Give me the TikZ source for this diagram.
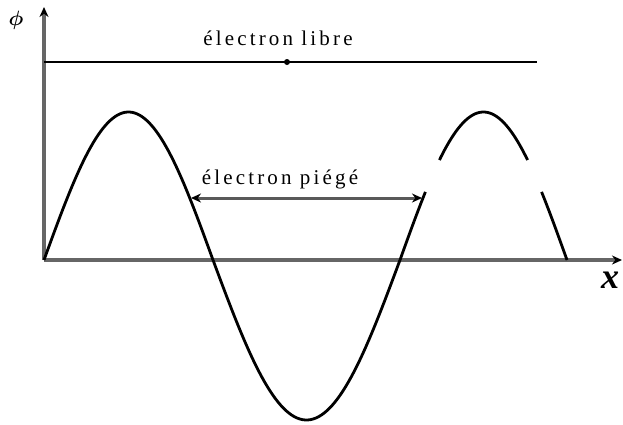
\documentclass[tikz,border=0pt]{standalone}
\usepackage{amsmath}
\usepackage{fontspec}
\setmainfont{Liberation Serif}
\newfontfamily\lblfont[LetterSpace=15]{Liberation Serif}
\usetikzlibrary{arrows.meta}
\begin{document}
\begin{tikzpicture}[x=1pt,y=-1pt,
  axis/.style={line width=3.6pt,black!60,-{Stealth[length=10pt,width=9pt,black]}},
  curve/.style={line width=2.8pt,black},
  lbl/.style={font=\lblfont\fontsize{21}{24}\selectfont,inner sep=0pt},
  freeline/.style={line width=1.8pt,black},
  trap/.style={line width=3pt,black!65,{Stealth[length=10pt,width=9pt,black]}-{Stealth[length=10pt,width=9pt,black]}}]
\useasboundingbox (0,0) rectangle (623,424);
% axes
\coordinate (O) at (44,260);
\coordinate (Ytop) at (44,7);
\coordinate (Xend) at (622,260);
\draw[axis] (O) -- (Ytop);
\draw[axis] (O) -- (Xend);
\node[font=\fontsize{22}{24}\selectfont] (phi) at (16,20) {$\boldsymbol{\phi}$};
\node[font=\fontsize{36}{38}\selectfont\bfseries\itshape,inner sep=0pt] (xl) at (610,280) {x};
% free electron
\coordinate (L1) at (44,62);
\coordinate (L2) at (537,62);
\draw[freeline] (L1) -- (L2);
\node[circle,fill=black,inner sep=0pt,minimum size=6pt] (dot) at (287,62) {};
\node[lbl] (libre) at (278,38) {électron libre};
% potential curve
\draw[curve] plot[domain=0:180,samples=70] ({44+0.93889*\x},{260-148*sin(\x)})
  -- plot[domain=0:180,samples=70] ({213+1.03889*\x},{260+160*sin(\x)})
  -- plot[domain=0:27.4,samples=15] ({400+0.92778*\x},{260-148*sin(\x)});
\draw[curve] plot[domain=42.5:137.5,samples=50] ({400+0.92778*\x},{260-148*sin(\x)});
\draw[curve] plot[domain=152.6:180,samples=15] ({400+0.92778*\x},{260-148*sin(\x)});
% trapped electron
\coordinate (T1) at (191,198);
\coordinate (T2) at (422,198);
\draw[trap] (T1) -- (T2);
\node[lbl] (piege) at (280,179) {électron piégé};
\end{tikzpicture}
\end{document}
